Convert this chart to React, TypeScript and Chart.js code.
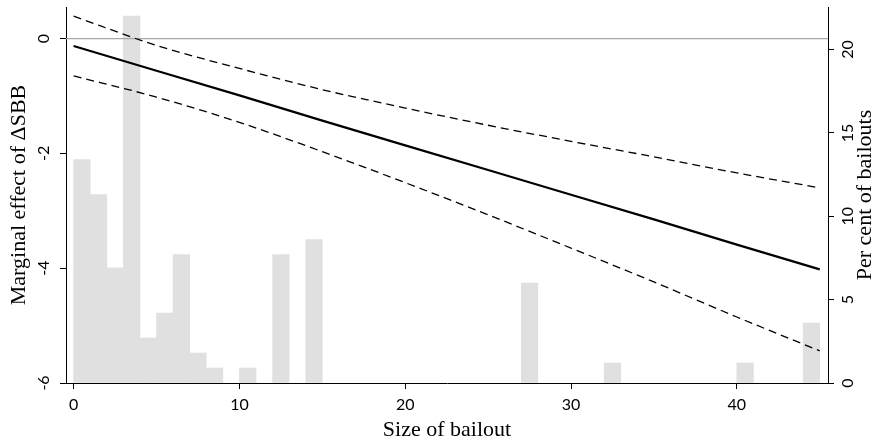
import React, { useEffect, useRef } from "react";
import { Chart, registerables } from "chart.js";

Chart.register(...registerables);

// Histogram of bailout sizes (bin start, per cent of bailouts)
const binStarts = [0, 1, 2, 3, 4, 5, 6, 7, 8, 10, 12, 14, 27, 32, 40, 44];
const binPercent = [13.4, 11.3, 6.9, 22.0, 2.7, 4.2, 7.7, 1.8, 0.9, 0.9, 7.7, 8.6, 6.0, 1.2, 1.2, 3.6];
const binWidth = 1;

// Marginal effect of ΔSBB with confidence band
const bailoutSize = [0, 5, 10, 15, 20, 25, 30, 35, 40, 45];
const marginalEffect = [-0.13, -0.56, -0.99, -1.43, -1.86, -2.29, -2.72, -3.15, -3.59, -4.02];
const upperCI = [0.39, -0.12, -0.52, -0.89, -1.21, -1.51, -1.79, -2.06, -2.34, -2.6];
const lowerCI = [-0.65, -1.02, -1.46, -1.97, -2.51, -3.07, -3.65, -4.24, -4.85, -5.44];

// Axes
const xTicks = [0, 10, 20, 30, 40];
const leftTicks = [-6, -4, -2, 0];
const rightTicks = [0, 5, 10, 15, 20];
const xMin = -0.46;
const xMax = 45.5;
const leftMin = -6;
const leftMax = 0.55;
const rightMin = 0;
const rightMax = 22.55;

const TICK_FONT = "Lato";
const TITLE_FONT = "'Liberation Serif'";

const rotatedLabels = {
  id: "rotatedLabels",
  afterDraw(chart: any) {
    const ctx = chart.ctx;
    const y = chart.scales.y;
    const y2 = chart.scales.y2;
    ctx.save();
    ctx.fillStyle = "#000";
    ctx.textAlign = "center";
    ctx.textBaseline = "middle";
    ctx.font = `16px ${TICK_FONT}`;
    leftTicks.forEach((v) => {
      const py = y.getPixelForValue(v);
      ctx.save();
      ctx.translate(y.right - 22, py);
      ctx.rotate(-Math.PI / 2);
      ctx.fillText(String(v), 0, 0);
      ctx.restore();
    });
    rightTicks.forEach((v) => {
      const py = y2.getPixelForValue(v);
      ctx.save();
      ctx.translate(y2.left + 19.5, py);
      ctx.rotate(-Math.PI / 2);
      ctx.fillText(String(v), 0, 0);
      ctx.restore();
    });
    ctx.font = `22px ${TITLE_FONT}`;
    ctx.save();
    ctx.translate(y2.right - 12, (chart.chartArea.top + chart.chartArea.bottom) / 2);
    ctx.rotate(-Math.PI / 2);
    ctx.fillText("Per cent of bailouts", 0, 0);
    ctx.restore();
    ctx.restore();
  },
};

export default function App() {
  const ref = useRef<HTMLCanvasElement | null>(null);

  useEffect(() => {
    if (!ref.current) return;
    const line = (ys: number[]) => bailoutSize.map((x, i) => ({ x, y: ys[i] }));
    const axisGrid = {
      display: true,
      drawOnChartArea: false,
      drawTicks: true,
      tickLength: 6,
      color: "#000",
      lineWidth: 1,
      offset: false,
    };
    const chart = new Chart(ref.current, {
      type: "bar",
      data: {
        datasets: [
          {
            type: "line",
            data: line(upperCI),
            yAxisID: "y",
            borderColor: "#000",
            borderWidth: 1.3,
            borderDash: [8, 5],
            pointRadius: 0,
            cubicInterpolationMode: "monotone",
            order: 1,
          },
          {
            type: "line",
            data: line(lowerCI),
            yAxisID: "y",
            borderColor: "#000",
            borderWidth: 1.3,
            borderDash: [8, 5],
            pointRadius: 0,
            cubicInterpolationMode: "monotone",
            order: 1,
          },
          {
            type: "line",
            data: line(marginalEffect),
            yAxisID: "y",
            borderColor: "#000",
            borderWidth: 2.2,
            pointRadius: 0,
            tension: 0,
            order: 0,
          },
          {
            type: "line",
            data: [
              { x: xMin, y: 0 },
              { x: xMax, y: 0 },
            ],
            yAxisID: "y",
            borderColor: "#a8a8a8",
            borderWidth: 1.3,
            pointRadius: 0,
            order: 5,
          },
          {
            type: "bar",
            data: binStarts.map((s, i) => ({ x: s + binWidth / 2, y: binPercent[i] })),
            yAxisID: "y2",
            backgroundColor: "#e0e0e0",
            borderWidth: 0,
            barPercentage: 1,
            categoryPercentage: 1,
            grouped: false,
            order: 10,
          },
        ] as any,
      },
      options: {
        responsive: false,
        animation: false,
        events: [],
        layout: { padding: { top: 7, left: 0, right: 0, bottom: 0 } },
        plugins: { legend: { display: false }, tooltip: { enabled: false } },
        scales: {
          x: {
            type: "linear",
            position: "bottom",
            min: xMin,
            max: xMax,
            offset: false,
            afterBuildTicks: (s: any) => {
              s.ticks = xTicks.map((v) => ({ value: v }));
            },
            afterFit: (s: any) => {
              s.height = 60;
            },
            grid: axisGrid,
            border: { display: true, color: "#000", width: 1 },
            ticks: {
              color: "#000",
              font: { family: TICK_FONT, size: 16 },
              padding: 6,
              maxRotation: 0,
              minRotation: 0,
              autoSkip: false,
            },
            title: {
              display: true,
              text: "Size of bailout",
              color: "#000",
              font: { family: TITLE_FONT, size: 22 },
              padding: { top: 0, bottom: 0 },
            },
          },
          y: {
            type: "linear",
            position: "left",
            min: leftMin,
            max: leftMax,
            afterBuildTicks: (s: any) => {
              s.ticks = leftTicks.map((v) => ({ value: v }));
            },
            afterFit: (s: any) => {
              s.width = 66;
            },
            grid: axisGrid,
            border: { display: true, color: "#000", width: 1 },
            ticks: { display: false },
            title: {
              display: true,
              text: "Marginal effect of ΔSBB",
              color: "#000",
              font: { family: TITLE_FONT, size: 22 },
              padding: { top: 6, bottom: 0 },
            },
          },
          y2: {
            type: "linear",
            position: "right",
            min: rightMin,
            max: rightMax,
            afterBuildTicks: (s: any) => {
              s.ticks = rightTicks.map((v) => ({ value: v }));
            },
            afterFit: (s: any) => {
              s.width = 49;
            },
            grid: axisGrid,
            border: { display: true, color: "#000", width: 1 },
            ticks: { display: false },
          },
        },
      } as any,
      plugins: [rotatedLabels],
    });
    return () => chart.destroy();
  }, []);

  return (
    <div style={{ position: "fixed", left: 0, top: 0, width: 877, height: 443, background: "#fff" }}>
      <canvas ref={ref} width={877} height={443} style={{ width: 877, height: 443, display: "block" }} />
    </div>
  );
}
